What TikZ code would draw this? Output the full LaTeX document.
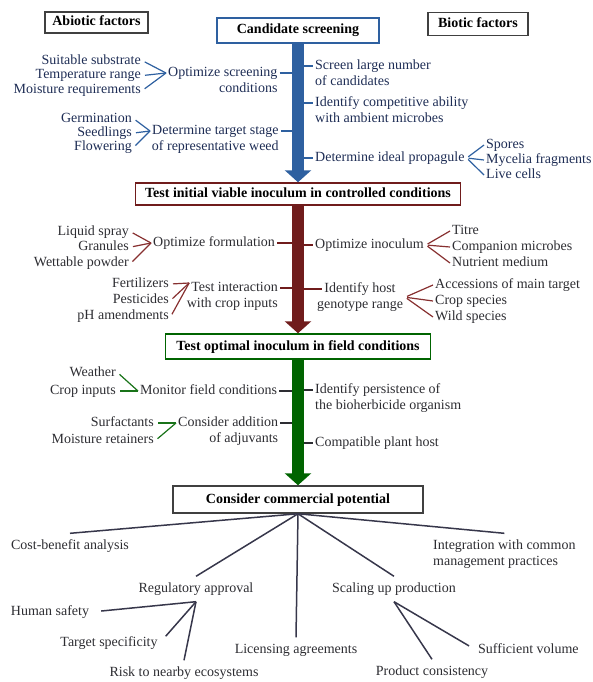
\documentclass[tikz,border=0pt]{standalone}
\usepackage{fontspec}
\setmainfont{Liberation Serif}
\usetikzlibrary{arrows.meta}
\definecolor{bluearr}{RGB}{46,96,160}
\definecolor{bluetxt}{RGB}{30,45,85}
\definecolor{redarr}{RGB}{112,28,28}
\definecolor{redln}{RGB}{135,48,48}
\definecolor{greenarr}{RGB}{0,100,0}
\definecolor{greenln}{RGB}{25,115,25}
\definecolor{txtgray}{RGB}{45,45,50}
\definecolor{twiggray}{RGB}{55,55,75}

\tikzset{
  lbl/.style={font=\fontsize{14}{16}\selectfont, text height=10pt, text depth=3pt, inner xsep=2pt, inner ysep=1.5pt, text=txtgray},
  leaf/.style={lbl, inner ysep=6pt},
  stagebox/.style={draw, line width=1.5pt, font=\fontsize{14}{16}\selectfont\bfseries, text height=10pt, text depth=3pt, inner sep=0pt},
  bigarrow/.style={line width=12pt, -{Triangle[length=12pt,width=26pt]}},
  brace/.style={line width=1.2pt, shorten <=2pt},
  twig/.style={draw=twiggray, line width=1.5pt},
}

\begin{document}
\begin{tikzpicture}[x=1pt,y=-1pt]
\useasboundingbox (0,0) rectangle (593,682);

\node[stagebox, draw=black!75, line width=1.2pt, minimum width=103pt, minimum height=21pt] (abio) at (96.5,22.5) {Abiotic factors};
\node[stagebox, draw=black!75, line width=1.2pt, minimum width=100pt, minimum height=23pt] (bio) at (478,24) {Biotic factors};
\node[stagebox, draw=bluearr, minimum width=162pt, minimum height=25pt] (cand) at (298,30.5) {Candidate screening};
\node[stagebox, draw=redarr, minimum width=325pt, minimum height=22pt] (test1) at (298,194) {Test initial viable inoculum in controlled conditions};
\node[stagebox, draw=greenarr, minimum width=265pt, minimum height=25pt] (field) at (298,346.5) {Test optimal inoculum in field conditions};
\node[stagebox, draw=black!75, minimum width=250pt, minimum height=27pt] (comm) at (298,499.5) {Consider commercial potential};

\node[lbl, text=bluetxt, anchor=east] (subst) at (143,61) {Suitable substrate};
\node[lbl, text=bluetxt, anchor=east] (tempr) at (143,75.5) {Temperature range};
\node[lbl, text=bluetxt, anchor=east] (moist) at (143,90) {Moisture requirements};
\node[lbl, text=bluetxt, anchor=west] (optscr) at (166,73) {Optimize screening};
\node[lbl, text=bluetxt, anchor=north east] (optscr2) at (optscr.south east) {conditions};
\node[lbl, text=bluetxt, anchor=east] (germ) at (134,119) {Germination};
\node[lbl, text=bluetxt, anchor=east] (seedl) at (134,133) {Seedlings};
\node[lbl, text=bluetxt, anchor=east] (flower) at (134,147) {Flowering};
\node[lbl, text=bluetxt, anchor=west] (dettar) at (150,131) {Determine target stage};
\node[lbl, text=bluetxt, anchor=north east] (dettar2) at (dettar.south east) {of representative weed};
\node[lbl, text=bluetxt, anchor=west] (scr) at (313,66) {Screen large number};
\node[lbl, text=bluetxt, anchor=north west] (scr2) at (scr.south west) {of candidates};
\node[lbl, text=bluetxt, anchor=west] (compab) at (313,103) {Identify competitive ability};
\node[lbl, text=bluetxt, anchor=north west] (compab2) at (compab.south west) {with ambient microbes};
\node[lbl, text=bluetxt, anchor=west] (prop) at (313,158) {Determine ideal propagule};
\node[lbl, text=bluetxt, anchor=west] (spores) at (484,145) {Spores};
\node[lbl, text=bluetxt, anchor=west] (mycel) at (484,160) {Mycelia fragments};
\node[lbl, text=bluetxt, anchor=west] (livec) at (484,175) {Live cells};

\draw[brace, bluearr] (subst.east) -- (optscr.west);
\draw[brace, bluearr] (tempr.east) -- (optscr.west);
\draw[brace, bluearr] (moist.east) -- (optscr.west);
\draw[brace, bluearr] (germ.east) -- (dettar.west);
\draw[brace, bluearr] (seedl.east) -- (dettar.west);
\draw[brace, bluearr] (flower.east) -- (dettar.west);
\draw[brace, bluearr] (prop.east) -- (spores.west);
\draw[brace, bluearr] (prop.east) -- (mycel.west);
\draw[brace, bluearr] (prop.east) -- (livec.west);
\draw[bluearr, line width=1.2pt] (optscr.east) -- (optscr.east -| cand.south);
\draw[bluearr, line width=1.2pt] (dettar.east) -- (dettar.east -| cand.south);
\draw[bluearr, line width=1.2pt] (scr.west -| cand.south) -- (scr.west);
\draw[bluearr, line width=1.2pt] (compab.west -| cand.south) -- (compab.west);
\draw[bluearr, line width=1.2pt] (prop.west -| cand.south) -- (prop.west);

\node[lbl, anchor=east] (liquid) at (131,232) {Liquid spray};
\node[lbl, anchor=east] (granul) at (131,247) {Granules};
\node[lbl, anchor=east] (wettab) at (131,263) {Wettable powder};
\node[lbl, anchor=west] (optform) at (151,243) {Optimize formulation};
\node[lbl, anchor=east] (fert) at (171,284) {Fertilizers};
\node[lbl, anchor=east] (pesti) at (171,300) {Pesticides};
\node[lbl, anchor=east] (phamd) at (171,316) {pH amendments};
\node[lbl, anchor=east] (testint) at (280,288) {Test interaction};
\node[lbl, anchor=north east] (testint2) at (testint.south east) {with crop inputs};
\node[lbl, anchor=west] (optinoc) at (313,245) {Optimize inoculum};
\node[lbl, anchor=west] (titre) at (450,231) {Titre};
\node[lbl, anchor=west] (compmic) at (450,247) {Companion microbes};
\node[lbl, anchor=west] (nutrmed) at (450,263) {Nutrient medium};
\node[lbl] (hostid) at (360,289) {Identify host};
\node[lbl, anchor=north] (hostid2) at (hostid.south) {genotype range};
\node[lbl, anchor=west] (access) at (433,285) {Accessions of main target};
\node[lbl, anchor=west] (cropsp) at (433,301) {Crop species};
\node[lbl, anchor=west] (wildsp) at (433,317) {Wild species};

\draw[brace, redln] (liquid.east) -- (optform.west);
\draw[brace, redln] (granul.east) -- (optform.west);
\draw[brace, redln] (wettab.east) -- (optform.west);
\draw[brace, redln] (fert.east) -- ([yshift=5pt]testint.west);
\draw[brace, redln] (pesti.east) -- ([yshift=5pt]testint.west);
\draw[brace, redln] (phamd.east) -- ([yshift=5pt]testint.west);
\draw[brace, redln] (optinoc.east) -- (titre.west);
\draw[brace, redln] (optinoc.east) -- (compmic.west);
\draw[brace, redln] (optinoc.east) -- (nutrmed.west);
\draw[brace, redln] (hostid2.north east) -- (access.west);
\draw[brace, redln] (hostid2.north east) -- (cropsp.west);
\draw[brace, redln] (hostid2.north east) -- (wildsp.west);
\draw[redarr, line width=1.2pt] (optform.east) -- (optform.east -| test1.south);
\draw[redarr, line width=1.2pt] (testint.east) -- (testint.east -| test1.south);
\draw[redarr, line width=1.2pt] (optinoc.west -| test1.south) -- (optinoc.west);
\draw[redarr, line width=1.2pt] (hostid.west -| test1.south) -- (hostid.west);

\node[lbl, anchor=east] (weath) at (118,373) {Weather};
\node[lbl, anchor=east] (cropin) at (118,391) {Crop inputs};
\node[lbl, anchor=west] (monit) at (138,391) {Monitor field conditions};
\node[lbl, anchor=east] (surfac) at (156,423) {Surfactants};
\node[lbl, anchor=east] (moistret) at (156,440) {Moisture retainers};
\node[lbl, anchor=west] (consadd) at (176,423) {Consider addition};
\node[lbl, anchor=north east] (consadd2) at (consadd.south east) {of adjuvants};
\node[lbl, anchor=west] (persist) at (313,390) {Identify persistence of};
\node[lbl, anchor=north west] (persist2) at (persist.south west) {the bioherbicide organism};
\node[lbl, anchor=west] (compat) at (313,443) {Compatible plant host};

\draw[brace, greenln] (weath.east) -- (monit.west);
\draw[brace, greenln] (cropin.east) -- (monit.west);
\draw[brace, greenln] (surfac.east) -- (consadd.west);
\draw[brace, greenln] (moistret.east) -- (consadd.west);
\draw[txtgray, line width=1.2pt] (monit.east) -- (monit.east -| field.south);
\draw[txtgray, line width=1.2pt] (consadd.east) -- (consadd.east -| field.south);
\draw[txtgray, line width=1.2pt] (persist.west -| field.south) -- (persist.west);
\draw[txtgray, line width=1.2pt] (compat.west -| field.south) -- (compat.west);

\draw[bigarrow, bluearr] (cand) -- (test1);
\draw[bigarrow, redarr] (test1) -- (field);
\draw[bigarrow, greenarr] (field) -- (comm);

\node[leaf] (cost) at (70,546) {Cost-benefit analysis};
\node[leaf, anchor=west] (integ) at (431,546) {Integration with common};
\node[lbl, anchor=west] (integ2) at (431,562) {management practices};
\node[leaf] (reg) at (196,589) {Regulatory approval};
\node[leaf] (scal) at (394,589) {Scaling up production};
\node[leaf] (lic) at (296,650) {Licensing agreements};
\node[leaf] (human) at (50,612) {Human safety};
\node[leaf] (target) at (109,643) {Target specificity};
\node[leaf] (risk) at (184,673) {Risk to nearby ecosystems};
\node[leaf, anchor=west] (suff) at (476,650) {Sufficient volume};
\node[leaf] (prod) at (432,672) {Product consistency};

\draw[twig] (comm.south) -- (cost.north);
\draw[twig] (comm.south) -- (reg.north);
\draw[twig] (comm.south) -- (lic.north);
\draw[twig] (comm.south) -- (scal.north);
\draw[twig] (comm.south) -- (integ.north);
\draw[twig, shorten >=10pt] (reg.south) -- (human.east);
\draw[twig, shorten >=9pt] (reg.south) -- (target.east);
\draw[twig] (reg.south) -- (risk.north);
\draw[twig, shorten >=8pt] (scal.south) -- (suff.west);
\draw[twig] (scal.south) -- (prod.north);
\end{tikzpicture}
\end{document}
